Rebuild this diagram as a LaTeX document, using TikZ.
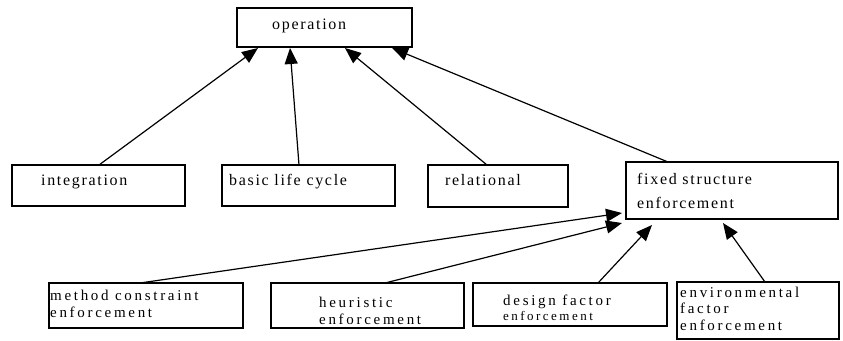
\documentclass[tikz,border=0pt]{standalone}
\usepackage{fontspec}
\setmainfont{Liberation Serif}
\newfontfamily\lsa[LetterSpace=10.5]{Liberation Serif}
\newfontfamily\lsb[LetterSpace=18]{Liberation Serif}
\newfontfamily\lsc[LetterSpace=19]{Liberation Serif}
\usetikzlibrary{arrows.meta,calc}
\begin{document}
\begin{tikzpicture}[x=1pt,y=-1pt,
  box/.style={draw,line width=1.4pt,inner sep=0pt,outer sep=0pt,anchor=north west},
  lbl/.style={inner sep=0pt,anchor=base west,font=\lsa\fontsize{16}{18}\selectfont},
  lblb/.style={inner sep=0pt,anchor=base west,font=\lsb\fontsize{15}{17}\selectfont},
  lblc/.style={inner sep=0pt,anchor=base west,font=\lsc\fontsize{13}{15}\selectfont},
  arr/.style={-{Triangle[length=16pt,width=13pt]},line width=1.2pt}]
\useasboundingbox (0,0) rectangle (843,340);
% boxes
\node[box,minimum width=175pt,minimum height=39pt] (op) at (237,8) {};
\node[box,minimum width=173pt,minimum height=41pt] (intg) at (12,165) {};
\node[box,minimum width=173pt,minimum height=41pt] (blc) at (222,165) {};
\node[box,minimum width=140pt,minimum height=42pt] (rel) at (428,165) {};
\node[box,minimum width=212pt,minimum height=57pt] (fse) at (626,162) {};
\node[box,minimum width=194pt,minimum height=45pt] (mce) at (49,283) {};
\node[box,minimum width=193pt,minimum height=45pt] (heu) at (271,283) {};
\node[box,minimum width=194pt,minimum height=43pt] (dfe) at (473,283) {};
\node[box,minimum width=162pt,minimum height=57pt] (env) at (677,282) {};
% texts
\node[lbl] (top) at (272,29) {operation};
\node[lbl] (tintg) at (41,185) {integration};
\node[lbl] (tblc) at (229,185) {basic life cycle};
\node[lbl] (trel) at (445,185) {relational};
\node[lbl] (tfse1) at (637,184) {fixed structure};
\node[lbl] (tfse2) at (637,208) {enforcement};
\node[lblb] (tmce1) at (50,300) {method constraint};
\node[lblb] (tmce2) at (50,317) {enforcement};
\node[lblb] (theu1) at (319,307) {heuristic};
\node[lblb] (theu2) at (319,324) {enforcement};
\node[lblb] (tdfe1) at (503,305) {design factor};
\node[lblc] (tdfe2) at (503,320) {enforcement};
\node[lblb] (tenv1) at (680,297) {environmental};
\node[lblb] (tenv2) at (680,313) {factor};
\node[lblb] (tenv3) at (680,330) {enforcement};
% connectors
\draw[arr] ($(intg.north west)+(87,0)$) -- ($(op.south west)+(21,1)$);
\draw[arr] ($(blc.north west)+(77,0)$) -- ($(op.south west)+(53,1)$);
\draw[arr] ($(rel.north west)+(59,0)$) -- ($(op.south west)+(108,1)$);
\draw[arr] ($(fse.north west)+(42,0)$) -- ($(op.south west)+(155,1)$);
\draw[arr] ($(mce.north west)+(91,0)$) -- ($(fse.south west)+(-4,-6)$);
\draw[arr] ($(heu.north west)+(114,0)$) -- ($(fse.south west)+(-4,4)$);
\draw[arr] ($(dfe.north west)+(125,0)$) -- ($(fse.south west)+(26,6)$);
\draw[arr] ($(env.north west)+(88,0)$) -- ($(fse.south west)+(97,4)$);
\end{tikzpicture}
\end{document}
